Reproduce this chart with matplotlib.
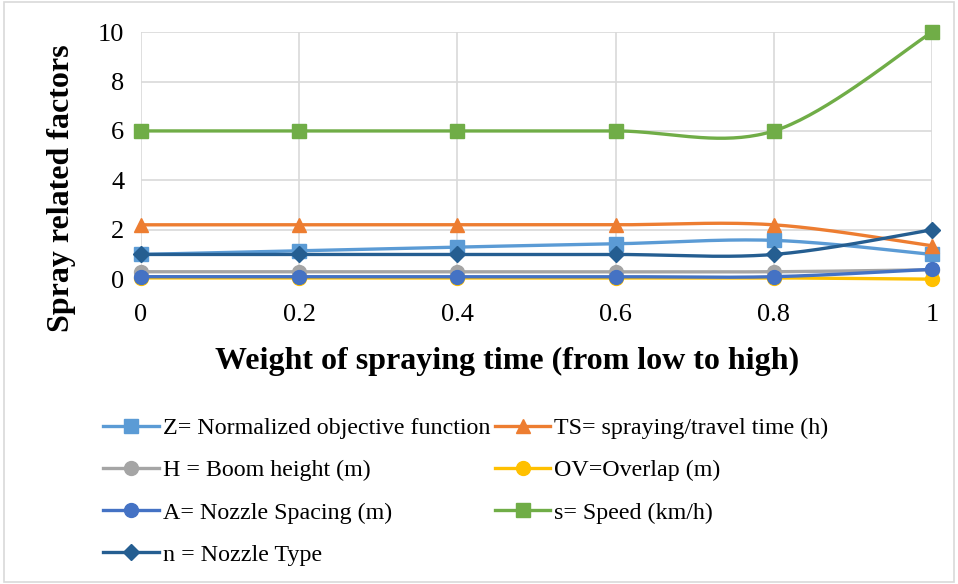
import numpy as np
import matplotlib.pyplot as plt

plt.rcParams['font.family'] = ['Liberation Serif', 'DejaVu Serif']

weights = [0, 0.2, 0.4, 0.6, 0.8, 1]
z_vals = [1.0, 1.15, 1.3, 1.43, 1.57, 1.0]
ts_vals = [2.2, 2.2, 2.2, 2.2, 2.2, 1.35]
h_vals = [0.3, 0.3, 0.3, 0.3, 0.3, 0.38]
ov_vals = [0.05, 0.05, 0.05, 0.05, 0.05, 0.0]
a_vals = [0.1, 0.1, 0.1, 0.1, 0.1, 0.4]
s_vals = [6, 6, 6, 6, 6, 10]
n_vals = [1, 1, 1, 1, 1, 2]


def smooth(x, y, steps=40):
    # Bezier segments with 1/6 tangents (catmull-rom style smoothing)
    x = np.asarray(x, float)
    y = np.asarray(y, float)
    px = np.concatenate([[x[0]], x, [x[-1]]])
    py = np.concatenate([[y[0]], y, [y[-1]]])
    xs, ys = [], []
    t = np.linspace(0, 1, steps)
    for i in range(1, len(px) - 2):
        p0 = np.array([px[i], py[i]])
        p3 = np.array([px[i + 1], py[i + 1]])
        c1 = p0 + (p3 - np.array([px[i - 1], py[i - 1]])) / 6
        c2 = p3 - (np.array([px[i + 2], py[i + 2]]) - p0) / 6
        pts = ((1 - t) ** 3)[:, None] * p0 + (3 * (1 - t) ** 2 * t)[:, None] * c1 \
            + (3 * (1 - t) * t ** 2)[:, None] * c2 + (t ** 3)[:, None] * p3
        xs.extend(pts[:, 0])
        ys.extend(pts[:, 1])
    return xs, ys


series = [
    ("Z= Normalized objective function", z_vals, "#5B9BD5", "s"),
    ("TS= spraying/travel time (h)", ts_vals, "#ED7D31", "^"),
    ("H = Boom height (m)", h_vals, "#A5A5A5", "o"),
    ("OV=Overlap (m)", ov_vals, "#FFC000", "o"),
    ("A= Nozzle Spacing (m)", a_vals, "#4472C4", "o"),
    ("s= Speed (km/h)", s_vals, "#70AD47", "s"),
    ("n = Nozzle Type", n_vals, "#255E91", "D"),
]

fig = plt.figure(figsize=(9.58, 5.84), dpi=100)
ax = fig.add_axes([0.147, 0.522, 0.826, 0.423])

handles = {}
for label, vals, color, marker in series:
    ms = 10 if marker != "D" else 8
    sx, sy = smooth(weights, vals)
    ax.plot(sx, sy, color=color, lw=2.4, solid_capstyle='round', clip_on=False)
    ax.plot(weights, vals, linestyle='none', marker=marker, color=color,
            markersize=ms, clip_on=False)
    h, = ax.plot([], [], color=color, lw=2.4, marker=marker, markersize=ms)
    handles[label] = h

ax.set_xlim(0, 1)
ax.set_ylim(0, 10)
ax.set_xticks(weights)
ax.set_xticklabels(["0", "0.2", "0.4", "0.6", "0.8", "1"])
ax.set_yticks([0, 2, 4, 6, 8, 10])
ax.tick_params(length=0, labelsize=19)
ax.tick_params(axis='x', pad=18)
ax.tick_params(axis='y', pad=12)
ax.grid(True, color="#D9D9D9", lw=1.2)
ax.set_axisbelow(True)
for sp in ax.spines.values():
    sp.set_visible(False)

ax.set_xlabel("Weight of spraying time (from low to high)", fontsize=23,
              fontweight='bold')
ax.xaxis.set_label_coords(0.463, -0.275)
ax.set_ylabel("Spray related factors", fontsize=23, fontweight='bold')
ax.yaxis.set_label_coords(-0.082, 0.37)

order = [0, 2, 4, 6, 1, 3, 5]
labels = [series[i][0] for i in order]
fig.legend([handles[l] for l in labels], labels, ncol=2, loc='upper left',
           bbox_to_anchor=(0.098, 0.302), frameon=False, fontsize=17.3,
           handlelength=2.3, handletextpad=0.17, columnspacing=0.2,
           labelspacing=0.85, borderaxespad=0)

fig.patches.append(plt.Rectangle((0.004, 0.004), 0.992, 0.992, transform=fig.transFigure,
                                 fill=False, edgecolor="#D9D9D9", lw=1.2))

fig.savefig("out.png", dpi=100)
